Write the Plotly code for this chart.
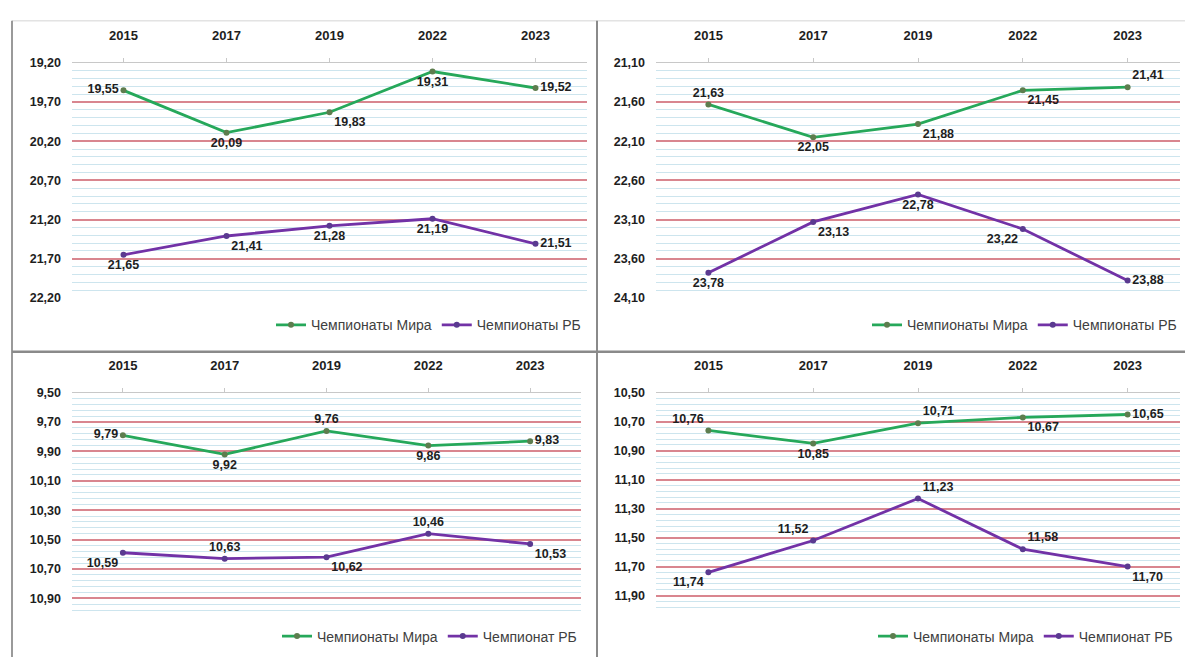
import plotly.graph_objects as go

# page body has a default 8px margin -> figure is drawn at (8,8)
OFF = 8
W, H = 1193 - OFF, 664 - OFF

years = ["2015", "2017", "2019", "2022", "2023"]

# Panel 1 (top-left)
p1_world = [19.55, 20.09, 19.83, 19.31, 19.52]
p1_rb = [21.65, 21.41, 21.28, 21.19, 21.51]
# Panel 2 (top-right)
p2_world = [21.63, 22.05, 21.88, 21.45, 21.41]
p2_rb = [23.78, 23.13, 22.78, 23.22, 23.88]
# Panel 3 (bottom-left)
p3_world = [9.79, 9.92, 9.76, 9.86, 9.83]
p3_rb = [10.59, 10.63, 10.62, 10.46, 10.53]
# Panel 4 (bottom-right)
p4_world = [10.76, 10.85, 10.71, 10.67, 10.65]
p4_rb = [11.74, 11.52, 11.23, 11.58, 11.70]

name_world = "Чемпионаты Мира"
name_rb_top = "Чемпионаты РБ"
name_rb_bottom = "Чемпионат РБ"

GREEN = "#26a85a"
PURPLE = "#7232a6"
GREEN_MK = "#5d7d4e"
PURPLE_MK = "#5a3a90"
TXT = "#1e1e1e"
FONT = "Liberation Sans, Arial, sans-serif"

# label placements (style)
pos = {
    1: (["middle left", "bottom center", "bottom right", "bottom center", "middle right"],
        ["bottom center", "bottom right", "bottom center", "bottom center", "middle right"]),
    2: (["top center", "bottom center", "bottom right", "bottom right", "top right"],
        ["bottom center", "bottom right", "bottom center", "bottom left", "middle right"]),
    3: (["middle left", "bottom center", "top center", "bottom center", "middle right"],
        ["bottom left", "top center", "bottom right", "top center", "bottom right"]),
    4: (["top left", "bottom center", "top right", "bottom right", "middle right"],
        ["bottom left", "top left", "top right", "top right", "bottom right"]),
}

panels = [
    # id, world, rb, rbname, x0,x1 (px), y0,y1 (px from top), range top,bottom, dtick, minor
    (1, p1_world, p1_rb, name_rb_top, 72, 587, 57, 297, 19.2, 22.2, 0.5, 0.1),
    (2, p2_world, p2_rb, name_rb_top, 656, 1180, 57, 297, 21.1, 24.1, 0.5, 0.1),
    (3, p3_world, p3_rb, name_rb_bottom, 72, 581, 394, 619, 9.5, 11.0, 0.2, 0.04),
    (4, p4_world, p4_rb, name_rb_bottom, 656, 1180, 394, 616, 10.5, 12.0, 0.2, 0.04),
]

legend_pos = {1: (586, 325), 2: (1182, 325), 3: (582, 643), 4: (1178, 643)}

def px_x(x):
    return (x - OFF) / W

def px_y(y):
    return 1 - (y - OFF) / H

def fmt(v):
    return f"{v:.2f}".replace(".", ",")

fig = go.Figure()
layout = dict(
    width=W, height=H, autosize=False,
    margin=dict(l=0, r=0, t=0, b=0),
    paper_bgcolor="white", plot_bgcolor="white",
    font=dict(family=FONT, size=12, color=TXT),
    separators=", ",
    showlegend=True,
)

for (pid, world, rb, rbname, x0, x1, y0, y1, rtop, rbot, dt, mdt) in panels:
    xa = "x" if pid == 1 else f"x{pid}"
    ya = "y" if pid == 1 else f"y{pid}"
    lg = "legend" if pid == 1 else f"legend{pid}"
    for vals, nm, col, mk, tp in [
        (world, name_world, GREEN, GREEN_MK, pos[pid][0]),
        (rb, rbname, PURPLE, PURPLE_MK, pos[pid][1]),
    ]:
        fig.add_trace(go.Scatter(
            x=years, y=vals, name=nm, mode="lines+markers+text",
            line=dict(color=col, width=2.8),
            marker=dict(color=mk, size=6),
            text=[fmt(v) for v in vals], textposition=tp,
            textfont=dict(family=FONT, size=12.5, color=TXT, weight="bold"),
            xaxis=xa, yaxis=ya, legend=lg, cliponaxis=False,
        ))
    xk = "xaxis" if pid == 1 else f"xaxis{pid}"
    yk = "yaxis" if pid == 1 else f"yaxis{pid}"
    layout[xk] = dict(
        domain=[px_x(x0), px_x(x1)], anchor=ya, side="top",
        type="category", range=[-0.5, 4.5],
        showgrid=False, showline=True, linecolor="#c8c8c8", linewidth=1,
        ticks="outside", ticklen=4, tickcolor="#c8c8c8",
        tickfont=dict(family=FONT, size=13, color=TXT, weight="bold"),
        ticklabelstandoff=13, zeroline=False, fixedrange=True,
    )
    layout[yk] = dict(
        domain=[px_y(y1), px_y(y0)], anchor=xa,
        range=[rbot, rtop], tick0=rtop, dtick=dt, tickformat=".2f",
        showgrid=True, gridcolor="#d9868f", gridwidth=1.6,
        minor=dict(dtick=mdt, tick0=rtop, showgrid=True, gridcolor="#cde5ee", gridwidth=1),
        showline=False, zeroline=False, ticks="",
        tickfont=dict(family=FONT, size=12.5, color=TXT, weight="bold"),
        ticklabelstandoff=10, fixedrange=True,
    )
    lx, ly = legend_pos[pid]
    layout[lg] = dict(
        orientation="h", x=px_x(lx), y=px_y(ly), xanchor="right", yanchor="middle",
        font=dict(family=FONT, size=14, color="#404040"),
        bgcolor="rgba(0,0,0,0)", itemwidth=30, tracegroupgap=0,
    )

# panel frames
shapes = []
def line(x0, y0, x1, y1, color, w):
    shapes.append(dict(type="line", xref="paper", yref="paper",
                       x0=px_x(x0), y0=px_y(y0), x1=px_x(x1), y1=px_y(y1),
                       line=dict(color=color, width=w)))

line(12, 14, 1193, 14, "#d4d4d4", 1)
line(12, 14, 12, 664, "#9a9a9a", 2)
line(12, 352, 1193, 352, "#8a8a8a", 2.5)
line(597, 14, 597, 664, "#8a8a8a", 2)
layout["shapes"] = shapes

fig.update_layout(**layout)
fig.write_html("out.html")
